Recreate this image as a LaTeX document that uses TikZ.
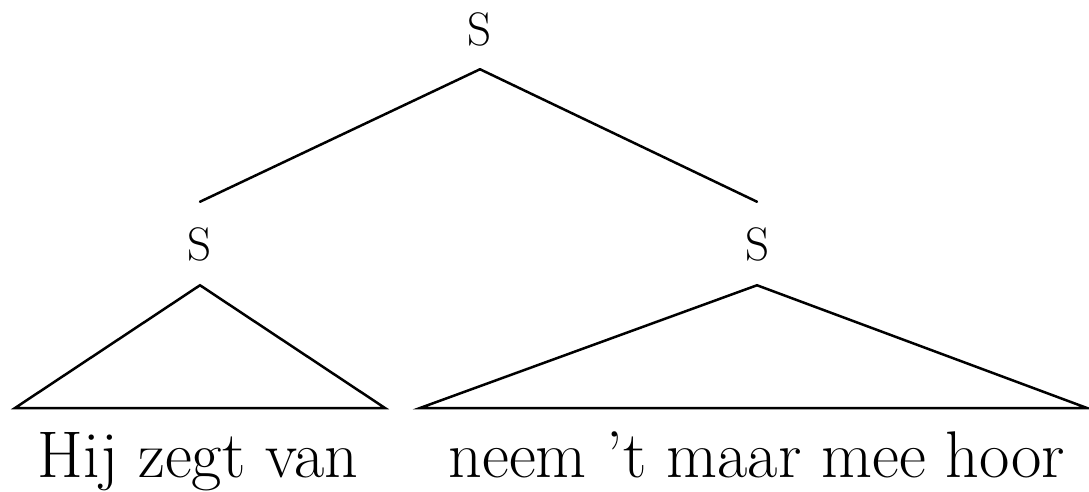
\documentclass[tikz,border=0pt]{standalone}
\usepackage{tikz}
\usetikzlibrary{calc}

\tikzset{
  cat/.style={inner xsep=2pt, inner ysep=0pt, text height=30pt, text depth=0pt,
              font=\fontsize{47}{54}\selectfont},
  leaf/.style={anchor=base, inner sep=0pt, font=\fontsize{66}{76}\selectfont},
}

\begin{document}
\begin{tikzpicture}[x=1pt, y=-1pt, line width=2.5pt, line cap=round, line join=miter]

  %% ==== categorieen ====
  \node[cat] (top) at (480.0,30.0) {S};
  \node[cat] (sl)  at (200.0,245.0) {S};
  \node[cat] (sr)  at (757.0,245.0) {S};

  %% ==== takken ====
  \coordinate (topfoot) at ($(top.south)+(0,23)$);
  \coordinate (slhead) at ($(sl.north)+(0,-27)$);
  \draw (topfoot) -- (slhead);
  \coordinate (srhead) at ($(sr.north)+(0,-27)$);
  \draw (topfoot) -- (srhead);

  %% ==== driehoeken ====
  \coordinate (slapex) at ($(sl.south)+(0,24)$);
  \coordinate (slbl) at (15.0,408.0);
  \coordinate (slbr) at (385.0,408.0);
  \draw (slapex) -- (slbl) -- (slbr) -- cycle;

  \coordinate (srapex) at ($(sr.south)+(0,24)$);
  \coordinate (srbl) at (420.0,408.0);
  \coordinate (srbr) at (1087.0,408.0);
  \draw (srapex) -- (srbl) -- (srbr) -- cycle;

  %% ==== woorden ====
  \node[leaf] (wl) at (198.0,477.0) {Hij zegt van};
  \node[leaf] (wr) at (757.0,477.0) {neem ’t maar mee hoor};

  % canvas vastzetten
  \pgfresetboundingbox
  \path[use as bounding box] (0,0) rectangle (1089,491);
\end{tikzpicture}
\end{document}
